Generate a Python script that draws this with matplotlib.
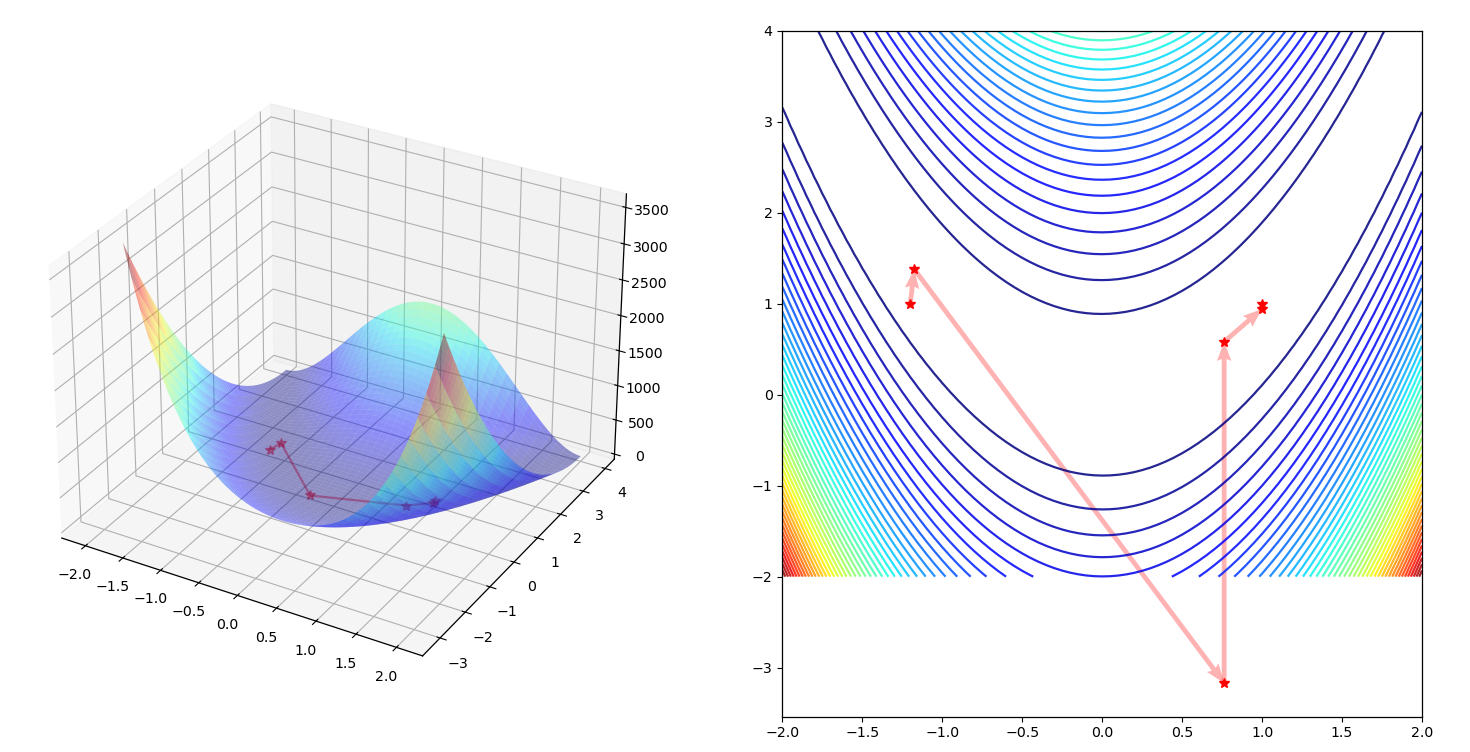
import numpy as np
import matplotlib
matplotlib.use('Agg')
import matplotlib.pyplot as plt
from mpl_toolkits.mplot3d import Axes3D

# newton steps
path_x = [-1.2, -1.175, 0.763, 0.763, 1.0, 1.0]
path_y = [1.0, 1.38, -3.17, 0.583, 0.944, 1.0]
path_z = [24.0, 5.0, 1410.0, 0.1, 0.1, 0.0]

# contour spacing read from the crossings on x=0
contour_levels = list(range(80, 3640, 80))

x_ticks_3d = [-2.0, -1.5, -1.0, -0.5, 0.0, 0.5, 1.0, 1.5, 2.0]
y_ticks_3d = [-3, -2, -1, 0, 1, 2, 3, 4]
z_ticks_3d = [0, 500, 1000, 1500, 2000, 2500, 3000, 3500]


# the surface is an analytic field (rosenbrock), not data that can be read point by point
def rosen(x, y):
    return (1 - x) ** 2 + 100 * (y - x ** 2) ** 2


X, Y = np.meshgrid(np.linspace(-2, 2, 81), np.linspace(-2, 4, 121))
Z = rosen(X, Y)

plt.rcParams['font.size'] = 10.2
plt.rcParams['axes.linewidth'] = 0.9
fig = plt.figure(figsize=(14.7, 7.52), dpi=100)

#-------------------------surface-------------------------
ax = fig.add_axes([0.009, 0.0735, 0.437, 0.855], projection='3d')
ax.plot_surface(X, Y, Z, rstride=2, cstride=2, cmap='jet', alpha=0.42, linewidth=0)
ax.plot(path_x, path_y, path_z, 'r-*', alpha=0.4, markersize=7, linewidth=1.6)
ax.set_xlim(-2.32, 2.32)
ax.set_ylim(-3.68, 4.42)
ax.set_zlim(-75, 3684)
ax.set_xticks(x_ticks_3d)
ax.set_yticks(y_ticks_3d)
ax.set_zticks(z_ticks_3d)
ax.view_init(elev=30, azim=-60)

#-------------------------contour-------------------------
ax2 = fig.add_axes([782.3 / 1470, (752 - 716.7) / 752, 639.7 / 1470, 685.7 / 752])
ax2.contour(X, Y, Z, levels=contour_levels, cmap='jet', linewidths=1.6, alpha=0.85)
ax2.quiver(path_x[:-1], path_y[:-1], np.diff(path_x), np.diff(path_y), angles='xy',
           scale_units='xy', scale=1, width=0.0075, headlength=4, headaxislength=3.6,
           color='r', alpha=0.3)
ax2.plot(path_x, path_y, 'r*', linestyle='none', markersize=7, zorder=5)
ax2.set_xlim(-2, 2)
ax2.set_ylim(-3.54, 4)

plt.savefig('out.png')
